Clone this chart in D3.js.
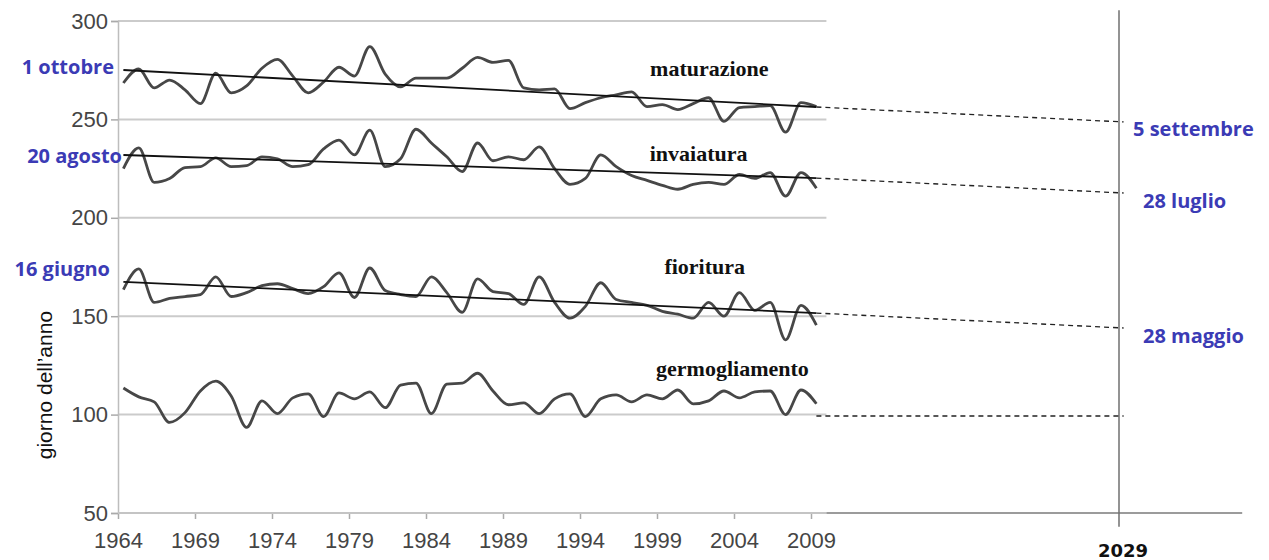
<!DOCTYPE html>
<html><head><meta charset="utf-8">
<script src="https://cdn.jsdelivr.net/npm/d3@7/dist/d3.min.js"></script>
<style>
html,body{margin:0;padding:0;background:#fff;}
svg{display:block;}
</style></head>
<body>
<svg id="chart" width="1269" height="560"></svg>
<script>
// ---------- data ----------
const years = d3.range(1964, 2010);
const maturazione = [268.5,275.6,266,270,265,258,273.5,263.5,267,276,280.5,272,263.5,269,276.5,272,287,273,266.5,271,271,271,276,281.5,279,280,266,265,265.5,255.5,258.5,261,262.5,264,256.5,257.5,255,258,261,249,256,256.5,257,243.5,258.5,256.5];
const invaiatura = [225,235.5,218,220,225.5,226,230.5,226,226.5,231,230,226,227,235,239.5,232,244.5,226,230,245,238,231,223.5,238,229,231,229.5,236,225,217,220,232,226,221.5,219,216.5,214.5,217,218,217,222,220,223,211,223,215];
const fioritura = [163.5,174,157,159,160,161,170,160,162,165.5,166.5,164,161.5,165,172,159.5,174.5,163,161,160,170,162,152,169,162.5,161.5,156,170,157,149,155,167,158.5,157,155.5,152.5,151,149,157,150,162,153,157,138,155.5,145.5];
const germogliamento = [113.5,109,106.5,96,101,112,117,109.5,93.5,107,100.5,108.5,110.5,99,111,108,111.5,103.5,115,116,100.5,115.5,116,121,112,105,106,100.5,108,110.5,99,108,110,106.5,110,108,112.5,105.5,107,112,108.5,111.5,112,100,112.5,105.5];
const seriesNames = ["maturazione","invaiatura","fioritura","germogliamento"];
// trend lines: value at 1964, value at 2009 (null = no trend)
const trendStart = [275.1, 231.9, 167.4, null];
const trendEnd   = [256.3, 220.2, 151.6, 99.3];
// projected value in 2029
const projection2029 = [248.7, 212.6, 144.0, 99.3];
const projectionYear = 2029;
const leftDateLabels = ["1 ottobre","20 agosto","16 giugno"];
const rightDateLabels = ["5 settembre","28 luglio","28 maggio"];
const yTicks = [50,100,150,200,250,300];
const xTicks = [1964,1969,1974,1979,1984,1989,1994,1999,2004,2009];
const yLabel = "giorno  dell\u2019anno";

// ---------- scales ----------
const svg = d3.select("#chart");
const x = d3.scaleLinear().domain([1964, 2029]).range([118, 1119]);
const y = d3.scaleLinear().domain([50, 300]).range([513, 21]);
const shift = 0.35; // data points sit slightly right of tick marks
const gridEnd = 2010;
const axisEnd = 2037;

// gridlines
svg.append("g").selectAll("line").data(yTicks.filter(v => v > 50)).join("line")
  .attr("x1", x(1964)).attr("x2", x(gridEnd))
  .attr("y1", d => y(d)).attr("y2", d => y(d))
  .attr("stroke", "#cbcbcb").attr("stroke-width", 2);

// y axis
const yAxis = svg.append("g").attr("transform", `translate(${x(1964)},0)`)
  .call(d3.axisLeft(y).tickValues(yTicks).tickSize(7).tickPadding(3));
yAxis.select(".domain").attr("stroke", "#bdbdbd").attr("stroke-width", 1.5);
yAxis.selectAll(".tick line").attr("stroke", "#aaa").attr("stroke-width", 1.5);
yAxis.selectAll(".tick text").attr("fill", "#454545")
  .style("font-family", "Liberation Sans").style("font-size", "22px");

// x axis
const xAxis = svg.append("g").attr("transform", `translate(0,${y(50)})`)
  .call(d3.axisBottom(x).tickValues(xTicks).tickFormat(d3.format("d")).tickSize(6).tickPadding(13));
xAxis.select(".domain").remove();
xAxis.selectAll(".tick line").attr("stroke", "#aaa").attr("stroke-width", 1.5);
xAxis.selectAll(".tick text").attr("fill", "#454545")
  .style("font-family", "Liberation Sans").style("font-size", "22px");
svg.append("line").attr("x1", x(1964)).attr("x2", x(gridEnd))
  .attr("y1", y(50)).attr("y2", y(50)).attr("stroke", "#c4c4c4").attr("stroke-width", 2);
svg.append("line").attr("x1", x(gridEnd)).attr("x2", x(axisEnd))
  .attr("y1", y(50)).attr("y2", y(50)).attr("stroke", "#7a7a7a").attr("stroke-width", 1.5);

// 2029 vertical line and label
svg.append("line").attr("x1", x(projectionYear)).attr("x2", x(projectionYear))
  .attr("y1", y(305.5)).attr("y2", y(43)).attr("stroke", "#6f6f6f").attr("stroke-width", 1.5);
svg.append("text").attr("x", x(projectionYear) + 4).attr("y", y(50) + 44)
  .attr("text-anchor", "middle").attr("fill", "#111")
  .style("font-family", "DejaVu Sans").style("font-weight", "bold").style("font-size", "18px")
  .text(String(projectionYear));

// series curves
const allSeries = [maturazione, invaiatura, fioritura, germogliamento];
const line = d3.line().x((d, i) => x(years[i] + shift)).y(d => y(d)).curve(d3.curveMonotoneX);
svg.append("g").selectAll("path").data(allSeries).join("path")
  .attr("d", d => line(d)).attr("fill", "none")
  .attr("stroke", "#474747").attr("stroke-width", 2.8).attr("stroke-linejoin", "round");

// trend lines
const firstYear = years[0], lastYear = years[years.length - 1];
trendStart.forEach((s, i) => {
  if (s === null) return;
  svg.append("line").attr("x1", x(firstYear + shift)).attr("y1", y(s))
    .attr("x2", x(lastYear + shift)).attr("y2", y(trendEnd[i]))
    .attr("stroke", "#111").attr("stroke-width", 1.8);
});
// projection dashed lines
trendEnd.forEach((e, i) => {
  svg.append("line").attr("x1", x(lastYear + shift)).attr("y1", y(e))
    .attr("x2", x(projectionYear + 0.3)).attr("y2", y(projection2029[i]))
    .attr("stroke", "#222").attr("stroke-width", 1.3).attr("stroke-dasharray", "5,4");
});

// series labels
const seriesLabelPos = [[2002.4, 276.1],[2001.7, 232.9],[2002.1, 175.5],[2003.9, 123.2]];
svg.append("g").selectAll("text").data(seriesNames).join("text")
  .attr("x", (d, i) => x(seriesLabelPos[i][0])).attr("y", (d, i) => y(seriesLabelPos[i][1]))
  .attr("text-anchor", "middle").attr("dominant-baseline", "central")
  .attr("fill", "#111")
  .style("font-family", "Liberation Serif").style("font-weight", "bold").style("font-size", "22px")
  .text(d => d);

// date labels
const blue = "#3b3bb5";
const leftLabelPos = [[114, 66],[122, 155],[110, 268]];
svg.append("g").selectAll("text").data(leftDateLabels).join("text")
  .attr("x", (d, i) => leftLabelPos[i][0]).attr("y", (d, i) => leftLabelPos[i][1])
  .attr("text-anchor", "end").attr("dominant-baseline", "central").attr("fill", blue)
  .style("font-family", "Open Sans").style("font-weight", "bold").style("font-size", "20px")
  .text(d => d);
const rightLabelPos = [[1133, 128],[1143, 200],[1143, 335]];
svg.append("g").selectAll("text").data(rightDateLabels).join("text")
  .attr("x", (d, i) => rightLabelPos[i][0]).attr("y", (d, i) => rightLabelPos[i][1])
  .attr("text-anchor", "start").attr("dominant-baseline", "central").attr("fill", blue)
  .style("font-family", "Open Sans").style("font-weight", "bold").style("font-size", "20px")
  .text(d => d);

// y axis title
svg.append("text").attr("transform", `translate(44,${y(115)}) rotate(-90)`)
  .attr("text-anchor", "middle").attr("dominant-baseline", "central").attr("fill", "#111")
  .style("font-family", "Liberation Sans").style("font-size", "21px")
  .text(yLabel);
</script>
</body></html>
